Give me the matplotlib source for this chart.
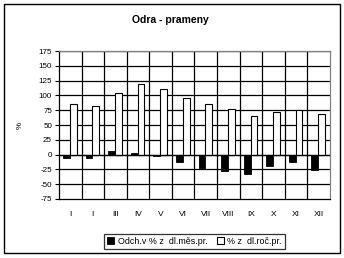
import matplotlib
matplotlib.use('Agg')
import matplotlib.pyplot as plt
from matplotlib.patches import Rectangle
import numpy as np

plt.rcParams['font.family'] = ['Liberation Sans', 'DejaVu Sans']

months = ['I', 'I', 'III', 'IV', 'V', 'VI', 'VII', 'VIII', 'IX', 'X', 'XI', 'XII']
odch = [-6, -6, 6, 2, -2, -13, -22, -28, -32, -20, -12, -26]
roc = [86, 82, 104, 120, 110, 95, 86, 77, 66, 72, 75, 69]
yticks = [-75, -50, -25, 0, 25, 50, 75, 100, 125, 150, 175]

fig = plt.figure(figsize=(3.44, 2.58), dpi=100)
ax = fig.add_axes([0.1715, 0.2287, 0.9593 - 0.1715, 0.8023 - 0.2287])

x = np.arange(len(months))
w = 0.3
ax.bar(x - w / 2 - 0.02, odch, w, color='black', edgecolor='black', lw=0.6,
       label='Odch.v % z  dl.měs.pr.', zorder=3)
ax.bar(x + w / 2 - 0.02, roc, w, color='white', edgecolor='black', lw=0.8,
       label='% z  dl.roč.pr.', zorder=3)

ax.set_xlim(-0.5, len(months) - 0.5)
ax.set_ylim(-75, 175)
ax.set_yticks(yticks)
ax.set_yticklabels([str(v) for v in yticks], fontsize=5.8)
ax.tick_params(axis='y', length=3, width=0.8, pad=2)
for v in yticks[1:]:
    ax.axhline(v, color='black', lw=0.9, zorder=1)
for b in np.arange(0.5, len(months) - 1, 1):
    ax.axvline(b, color='black', lw=0.9, zorder=1)
ax.axhline(0, color='black', lw=0.9, zorder=4)

ax.set_xticks(x)
ax.set_xticklabels(months, fontsize=6)
ax.tick_params(axis='x', length=0, pad=9)

ax.spines['left'].set_color('black')
ax.spines['bottom'].set_color('black')
ax.spines['top'].set_color('#808080')
ax.spines['right'].set_color('#808080')
for s in ax.spines.values():
    s.set_linewidth(0.9)

ax.set_ylabel('%', fontsize=5.8, labelpad=11)
fig.text(0.494, 0.922, 'Odra - prameny', ha='center', va='center',
         fontsize=7.5, fontweight='bold')

leg = ax.legend(loc='center', bbox_to_anchor=(0.5, -0.287), ncol=2, fontsize=6.4,
                frameon=True, fancybox=False, edgecolor='black', handlelength=0.8,
                handleheight=0.8, handletextpad=0.4, columnspacing=1.0,
                borderpad=0.35, borderaxespad=0)
leg.get_frame().set_linewidth(0.9)

fig.patches.append(Rectangle((4 / 344, 1 - 253 / 258), 336 / 344, 249 / 258,
                             transform=fig.transFigure, fill=False,
                             edgecolor='black', lw=1.0))

plt.savefig('out.png', dpi=100)
